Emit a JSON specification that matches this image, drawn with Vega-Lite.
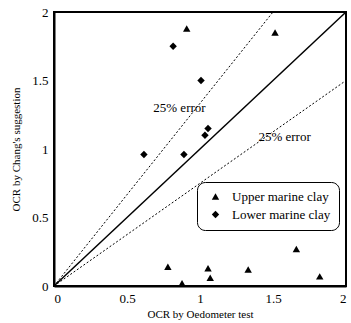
{
  "$schema": "https://vega.github.io/schema/vega-lite/v6.json",
  "autosize": "none",
  "padding": {"left": 54, "top": 12, "right": 5, "bottom": 37},
  "width": 292,
  "height": 274,
  "config": {
    "view": {"stroke": "black", "strokeWidth": 2},
    "font": "Liberation Serif",
    "axis": {"grid": false, "domainColor": "black", "domainWidth": 2, "ticks": false, "labelFont": "Liberation Serif", "labelFontSize": 13, "labelColor": "black", "titleFont": "Liberation Serif", "titleFontSize": 11, "titleFontWeight": "normal", "titleColor": "black", "labelPadding": 6, "format": "~g"}
  },
  "layer": [
    {
      "data": {"values": [
        {"x": 0, "y": 0, "line": "equal"}, {"x": 2, "y": 2, "line": "equal"}
      ]},
      "mark": {"type": "line", "color": "black", "strokeWidth": 1.5},
      "encoding": {
        "x": {"field": "x", "type": "quantitative", "scale": {"domain": [0, 2]}, "axis": {"values": [0, 0.5, 1, 1.5, 2], "format": "~g", "title": "OCR by Oedometer test", "titlePadding": 3}},
        "y": {"field": "y", "type": "quantitative", "scale": {"domain": [0, 2]}, "axis": {"values": [0, 0.5, 1, 1.5, 2], "format": "~g", "title": "OCR by Chang's suggestion", "titlePadding": 10}}
      }
    },
    {
      "data": {"values": [
        {"x": 0, "y": 0, "line": "upper"}, {"x": 1.5, "y": 2, "line": "upper"},
        {"x": 0, "y": 0, "line": "lower"}, {"x": 2, "y": 1.5, "line": "lower"}
      ]},
      "mark": {"type": "line", "color": "black", "strokeWidth": 1, "strokeDash": [2, 2]},
      "encoding": {
        "x": {"field": "x", "type": "quantitative"},
        "y": {"field": "y", "type": "quantitative"},
        "detail": {"field": "line"}
      }
    },
    {
      "data": {"values": [
        {"x": 0.68, "y": 1.3, "label": "25% error"},
        {"x": 1.4, "y": 1.09, "label": "25% error"}
      ]},
      "mark": {"type": "text", "align": "left", "baseline": "middle", "fontSize": 13, "font": "Liberation Serif", "color": "black"},
      "encoding": {
        "x": {"field": "x", "type": "quantitative"},
        "y": {"field": "y", "type": "quantitative"},
        "text": {"field": "label"}
      }
    },
    {
      "data": {"values": [
        {"x": 0.909, "y": 1.88, "type": "Upper marine clay"},
        {"x": 1.514, "y": 1.85, "type": "Upper marine clay"},
        {"x": 0.78, "y": 0.14, "type": "Upper marine clay"},
        {"x": 0.877, "y": 0.02, "type": "Upper marine clay"},
        {"x": 1.055, "y": 0.13, "type": "Upper marine clay"},
        {"x": 1.07, "y": 0.06, "type": "Upper marine clay"},
        {"x": 1.33, "y": 0.12, "type": "Upper marine clay"},
        {"x": 1.66, "y": 0.27, "type": "Upper marine clay"},
        {"x": 1.82, "y": 0.07, "type": "Upper marine clay"},
        {"x": 0.816, "y": 1.75, "type": "Lower marine clay"},
        {"x": 1.007, "y": 1.5, "type": "Lower marine clay"},
        {"x": 1.055, "y": 1.15, "type": "Lower marine clay"},
        {"x": 1.034, "y": 1.1, "type": "Lower marine clay"},
        {"x": 0.89, "y": 0.96, "type": "Lower marine clay"},
        {"x": 0.616, "y": 0.96, "type": "Lower marine clay"}
      ]},
      "mark": {"type": "point", "filled": true, "color": "black", "opacity": 1, "size": 55},
      "encoding": {
        "x": {"field": "x", "type": "quantitative"},
        "y": {"field": "y", "type": "quantitative"},
        "shape": {"field": "type", "type": "nominal",
          "scale": {"domain": ["Upper marine clay", "Lower marine clay"], "range": ["triangle-up", "diamond"]},
          "legend": {"title": null, "orient": "none", "legendX": 143, "legendY": 170, "strokeColor": "black", "cornerRadius": 8, "padding": 8, "labelFontSize": 13, "labelFont": "Liberation Serif", "labelColor": "black", "symbolFillColor": "black", "symbolStrokeColor": "black", "symbolSize": 55, "rowPadding": 3, "labelOffset": 10, "symbolOffset": 4,
            "encode": {"legend": {"update": {"strokeWidth": {"value": 2}}}}}
        }
      }
    }
  ]
}
